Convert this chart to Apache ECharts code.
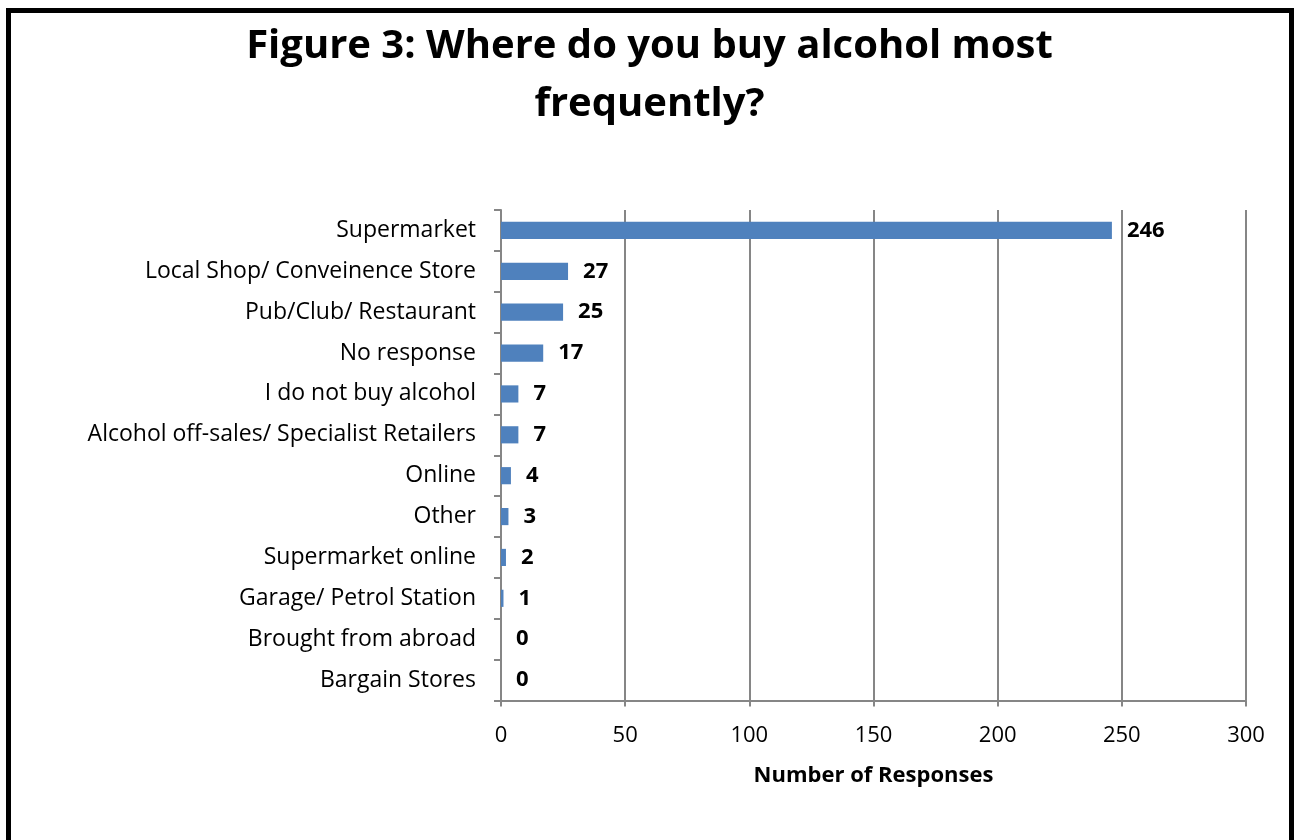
<!DOCTYPE html>
<html>
<head>
<meta charset="utf-8">
<script src="https://cdn.jsdelivr.net/npm/echarts@6/dist/echarts.min.js"></script>
<style>
  html, body { margin: 0; padding: 0; background: #fff; }
  #chart { width: 1299px; height: 840px; }
</style>
</head>
<body>
<div id="chart"></div>
<script>
// Where people buy alcohol most frequently (number of responses)
const categories = [
  'Supermarket',
  'Local Shop/ Conveinence Store',
  'Pub/Club/ Restaurant',
  'No response',
  'I do not buy alcohol',
  'Alcohol off-sales/ Specialist Retailers',
  'Online',
  'Other',
  'Supermarket online',
  'Garage/ Petrol Station',
  'Brought from abroad',
  'Bargain Stores'
];
const responses = [246, 27, 25, 17, 7, 7, 4, 3, 2, 1, 0, 0];
const xTicks = [0, 50, 100, 150, 200, 250, 300];

const FONT = '"Open Sans", Lato, sans-serif';
const chart = echarts.init(document.getElementById('chart'));

chart.setOption({
  backgroundColor: '#ffffff',
  animation: false,
  title: {
    text: 'Figure 3: Where do you buy alcohol most\nfrequently?',
    left: 'center',
    top: 13,
    textStyle: {
      fontFamily: FONT,
      fontSize: 40,
      fontWeight: 'bold',
      color: '#000',
      lineHeight: 58
    }
  },
  graphic: [{
    type: 'rect',
    shape: { x: 8.5, y: 10.5, width: 1283, height: 900 },
    style: { fill: 'none', stroke: '#000', lineWidth: 5 },
    silent: true
  }],
  grid: { left: 501, right: 53, top: 210, bottom: 139.5 },
  xAxis: {
    type: 'value',
    min: xTicks[0],
    max: xTicks[xTicks.length - 1],
    interval: xTicks[1] - xTicks[0],
    name: 'Number of Responses',
    nameLocation: 'middle',
    nameGap: 64,
    nameTextStyle: { fontFamily: FONT, fontSize: 22, fontWeight: 'bold', color: '#000' },
    axisLine: { show: true, lineStyle: { color: '#868686', width: 2 } },
    axisTick: { show: true, length: 6, lineStyle: { color: '#868686', width: 2 } },
    axisLabel: { fontFamily: FONT, fontSize: 22, color: '#000', margin: 24 },
    splitLine: { show: true, lineStyle: { color: '#868686', width: 2 } }
  },
  yAxis: {
    type: 'category',
    data: categories,
    inverse: true,
    axisLine: { show: true, lineStyle: { color: '#868686', width: 2 } },
    axisTick: { show: true, length: 7, alignWithLabel: false, lineStyle: { color: '#868686', width: 2 } },
    axisLabel: { fontFamily: FONT, fontSize: 23, color: '#000', margin: 25 }
  },
  series: [{
    type: 'bar',
    data: responses,
    barCategoryGap: '58%',
    itemStyle: { color: '#4F81BD' },
    label: {
      show: true,
      position: 'right',
      distance: 15,
      fontFamily: FONT,
      fontSize: 22,
      fontWeight: 'bold',
      color: '#000'
    }
  }]
});
</script>
</body>
</html>
